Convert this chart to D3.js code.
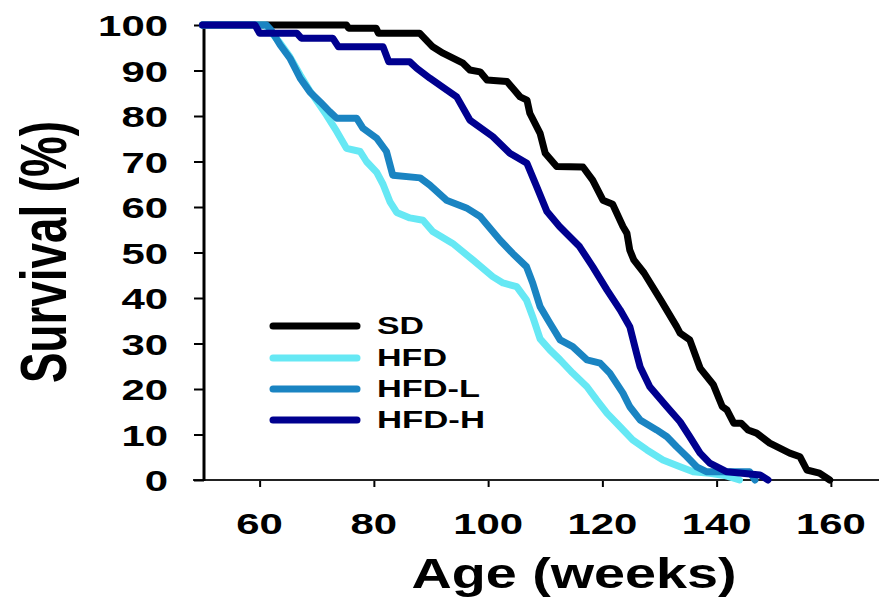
<!DOCTYPE html>
<html><head><meta charset="utf-8">
<script src="https://cdn.jsdelivr.net/npm/d3@7"></script>
<style>html,body{margin:0;padding:0;background:#fff;}svg{display:block;}</style>
</head><body>
<svg id="chart" width="879" height="599"></svg>
<script>
const xTicks = [60, 80, 100, 120, 140, 160];
const yTicks = [0, 10, 20, 30, 40, 50, 60, 70, 80, 90, 100];
const seriesNames = ["SD", "HFD", "HFD-L", "HFD-H"];
const seriesColors = ["#000000", "#66e8f4", "#1a84c2", "#00008f"];

const SD = [[50,100],[75.2,100],[75.6,99.3],[80.4,99.3],[80.8,98.2],[88,98.2],[90.3,95.2],[92.1,93.8],[95.6,91.6],[96.8,90.1],[98.6,89.7],[99.8,87.9],[103.3,87.6],[105.6,84.2],[106.8,83.5],[107.3,80.6],[109.1,76.2],[110,71.8],[112,68.9],[116.6,68.8],[118.3,65.9],[120.1,61.5],[121.8,60.6],[123.6,55.7],[124.3,54.2],[124.8,50.5],[125.5,48.4],[127.3,45.5],[130.2,39.6],[133,33.7],[133.6,32.3],[135.3,30.8],[137.1,24.6],[139.4,21],[141,16.1],[141.8,15.4],[143,12.5],[144.3,12.5],[145.5,11],[147,10.3],[149.3,8.1],[152.8,5.9],[154.6,5.1],[155.8,2.2],[158,1.5],[159.8,0]];
const HFD = [[50,100],[61,100],[63.6,96],[65.3,93],[67.1,89],[68.8,85.5],[69.3,84.6],[71.7,80.2],[73.5,76.6],[75.2,72.9],[77.6,72.2],[78.7,70],[80.5,67.6],[81.6,65],[82.8,61.2],[84,58.8],[86.3,57.6],[88.6,57.1],[90.3,54.6],[93.8,52],[97.3,48.4],[100.8,44.7],[102.6,43.3],[105,42.5],[106.7,39.6],[107.8,35.9],[109.1,31],[110.8,28.6],[112.6,26.4],[114.8,23.5],[117.3,20.5],[119,17.6],[120.8,14.7],[123.1,11.7],[125.3,8.8],[127.8,6.6],[130.6,4.4],[133.6,2.9],[135.9,1.8],[138.8,1.5],[141.4,1],[144,0]];
const HFDL = [[50,100],[61.2,100],[62,98.9],[63.6,95.6],[65.3,92.7],[67.1,88.3],[68.8,85.3],[70.6,83.1],[72.3,80.9],[73.5,79.5],[77,79.5],[78.1,77.3],[80.5,75.1],[82.2,72.2],[83.3,67],[88.1,66.4],[89.8,64.8],[92.7,61.5],[96.2,59.8],[98.6,57.9],[102.1,52.7],[104.3,49.8],[106.7,46.9],[107.8,43.3],[109.1,38.1],[110.8,34.5],[112.6,30.8],[114.8,29.3],[117.3,26.4],[119.6,25.7],[121.3,23.5],[123.6,19.1],[124.8,16.1],[126.6,13.2],[129.5,11],[131.3,9.5],[133,7.3],[134.8,5.1],[136.5,2.9],[138.3,1.8],[145.8,1.8],[146.7,0]];
const HFDH = [[50,100],[59.2,100],[60,98.2],[66.5,98.2],[67.3,97.1],[72.8,97.1],[73.8,95.2],[81.6,95.2],[82.6,91.9],[86.3,91.9],[87.5,90.5],[89.8,88.3],[92.8,85.7],[94.5,84.2],[96.8,79.1],[100.8,75.5],[103.8,71.8],[106.8,69.6],[108.5,64.5],[110.3,59],[112.5,55.7],[116,51.3],[118.3,46.9],[120.8,41.8],[123.1,37.4],[124.8,33.7],[126,27.8],[126.6,24.9],[128.3,20.5],[131.3,16.1],[133.6,12.8],[135.3,9.5],[137.1,5.9],[138.8,3.7],[141.8,1.8],[147.6,1.1],[149,0]];
const seriesData = [SD, HFD, HFDL, HFDH];

const svg = d3.select("#chart");
const FONT = "'Liberation Sans', Arial, Helvetica, sans-serif";
const x = d3.scaleLinear().domain([50, 170]).range([202.5, 888]);
const y = d3.scaleLinear().domain([0, 100]).range([480, 25]);

// X axis
const xAxis = svg.append("g").attr("transform", "translate(0,480)")
  .call(d3.axisBottom(x).tickValues(xTicks).tickSize(7).tickFormat(""));
xAxis.select(".domain").remove();
xAxis.selectAll(".tick line").attr("stroke", "#000").attr("stroke-width", 2);
svg.append("line").attr("x1", 193).attr("x2", 879).attr("y1", 480).attr("y2", 480)
  .attr("stroke", "#222").attr("stroke-width", 2);
svg.append("g").selectAll("text").data(xTicks).join("text")
  .attr("x", d => x(d)).attr("y", 534)
  .attr("text-anchor", "middle")
  .attr("font-family", FONT).attr("font-weight", "bold").attr("font-size", 30)
  .attr("textLength", d => String(d).length * 23.3).attr("lengthAdjust", "spacingAndGlyphs")
  .text(d => d);

// Y axis
const yAxis = svg.append("g").attr("transform", "translate(204,0)")
  .call(d3.axisLeft(y).tickValues(yTicks).tickSize(10).tickFormat(""));
yAxis.select(".domain").remove();
yAxis.selectAll(".tick line").attr("stroke", "#000").attr("stroke-width", 2);
svg.append("line").attr("x1", 204).attr("x2", 204).attr("y1", y(100)).attr("y2", 481)
  .attr("stroke", "#000").attr("stroke-width", 3);
svg.append("g").selectAll("text").data(yTicks).join("text")
  .attr("x", 168).attr("y", d => y(d) + 11)
  .attr("text-anchor", "end")
  .attr("font-family", FONT).attr("font-weight", "bold").attr("font-size", 30)
  .attr("textLength", d => String(d).length * 23.3).attr("lengthAdjust", "spacingAndGlyphs")
  .text(d => d);

// Axis titles
svg.append("text").attr("x", 574).attr("y", 588)
  .attr("text-anchor", "middle")
  .attr("font-family", FONT).attr("font-weight", "bold").attr("font-size", 42)
  .attr("textLength", 325).attr("lengthAdjust", "spacingAndGlyphs")
  .text("Age (weeks)");
svg.append("text")
  .attr("transform", "translate(66,252) scale(1.6,1) rotate(-90)")
  .attr("text-anchor", "middle")
  .attr("font-family", FONT).attr("font-weight", "bold").attr("font-size", 40)
  .attr("textLength", 262).attr("lengthAdjust", "spacingAndGlyphs")
  .text("Survival (%)");

// Lines
const line = d3.line().x(d => x(d[0])).y(d => y(d[1])).curve(d3.curveLinear);
svg.append("g").selectAll("path").data(seriesData).join("path")
  .attr("d", d => line(d))
  .attr("fill", "none")
  .attr("stroke", (d, i) => seriesColors[i])
  .attr("stroke-width", 7)
  .attr("stroke-linejoin", "round")
  .attr("stroke-linecap", "round");

// Legend
const legendY = [326, 358, 389, 420];
const legendW = [47, 70, 103, 108];
const lg = svg.append("g");
seriesNames.forEach((name, i) => {
  lg.append("line").attr("x1", 273).attr("x2", 357)
    .attr("y1", legendY[i]).attr("y2", legendY[i])
    .attr("stroke", seriesColors[i]).attr("stroke-width", 7).attr("stroke-linecap", "round");
  lg.append("text").attr("x", 377).attr("y", legendY[i] + 8)
    .attr("font-family", FONT).attr("font-weight", "bold").attr("font-size", 23)
    .attr("textLength", legendW[i]).attr("lengthAdjust", "spacingAndGlyphs")
    .text(name);
});
</script>
</body></html>
